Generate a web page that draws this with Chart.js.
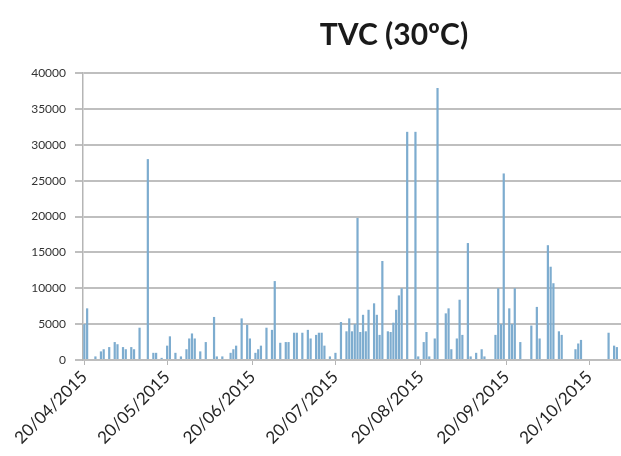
<!DOCTYPE html>
<html>
<head>
<meta charset="utf-8">
<script src="https://cdn.jsdelivr.net/npm/chart.js@4.4.1/dist/chart.umd.min.js"></script>
<style>
    body { margin: 0; background: #fff; }
    #caja { width: 621px; height: 456px; }
</style>
</head>
<body>
<div id="caja"><canvas id="myChart"></canvas></div>
<script>

// fechas con muestra y su valor TVC
const fechas = [
    '20/04/2015','21/04/2015','24/04/2015','26/04/2015','27/04/2015','29/04/2015',
    '01/05/2015','02/05/2015','04/05/2015','05/05/2015','07/05/2015','08/05/2015','10/05/2015',
    '13/05/2015','15/05/2015','16/05/2015','18/05/2015','20/05/2015','21/05/2015','23/05/2015',
    '25/05/2015','27/05/2015','28/05/2015','29/05/2015','30/05/2015',
    '01/06/2015','03/06/2015','06/06/2015','07/06/2015','09/06/2015','12/06/2015','13/06/2015',
    '14/06/2015','16/06/2015','18/06/2015','19/06/2015','21/06/2015','22/06/2015','23/06/2015',
    '25/06/2015','27/06/2015','28/06/2015','30/06/2015',
    '02/07/2015','03/07/2015','05/07/2015','06/07/2015','08/07/2015','10/07/2015','11/07/2015',
    '13/07/2015','14/07/2015','15/07/2015','16/07/2015','18/07/2015','20/07/2015','22/07/2015',
    '24/07/2015','25/07/2015','26/07/2015','27/07/2015','28/07/2015','29/07/2015','30/07/2015','31/07/2015',
    '01/08/2015','03/08/2015','04/08/2015','05/08/2015','06/08/2015','08/08/2015','09/08/2015',
    '10/08/2015','11/08/2015','12/08/2015','13/08/2015','15/08/2015','18/08/2015','19/08/2015',
    '21/08/2015','22/08/2015','23/08/2015','25/08/2015','26/08/2015','29/08/2015','30/08/2015','31/08/2015',
    '02/09/2015','03/09/2015','04/09/2015','06/09/2015','07/09/2015','09/09/2015','11/09/2015',
    '12/09/2015','16/09/2015','17/09/2015','18/09/2015','19/09/2015','21/09/2015','22/09/2015',
    '23/09/2015','25/09/2015','29/09/2015',
    '01/10/2015','02/10/2015','05/10/2015','06/10/2015','07/10/2015','09/10/2015','10/10/2015',
    '15/10/2015','16/10/2015','17/10/2015','27/10/2015','29/10/2015','30/10/2015'
];

const valores = [
    5000, 7200, 500, 1200, 1500, 1800,
    2500, 2200, 1800, 1500, 1800, 1500, 4500,
    28000, 1000, 1000, 300, 2000, 3300, 1000,
    500, 1500, 3000, 3700, 3000,
    1200, 2500, 6000, 500, 500, 1000, 1500,
    2000, 5800, 4900, 3000, 1000, 1500, 2000,
    4500, 4200, 11000, 2400,
    2500, 2500, 3800, 3800, 3800, 4200, 3000,
    3500, 3800, 3800, 2000, 500, 1000, 5300,
    4000, 5800, 4000, 5000, 19800, 3900, 6300, 4000,
    7000, 7900, 6300, 3500, 13800, 4000, 3900,
    5200, 7000, 9000, 10000, 31800, 31800, 500,
    2500, 3900, 500, 3000, 37900, 6500, 7200, 1500,
    3000, 8400, 3500, 16300, 500, 1000, 1500,
    500, 3500, 10000, 5000, 26000, 7200, 5000,
    10000, 2500, 4800,
    7400, 3000, 16000, 13000, 10700, 4000, 3500,
    1500, 2300, 2800, 3800, 2000, 1800
];

const etiquetasEje = ['20/04/2015','20/05/2015','20/06/2015','20/07/2015','20/08/2015','20/09/2015','20/10/2015'];
const ticksY = [0, 5000, 10000, 15000, 20000, 25000, 30000, 35000, 40000];

const inicio = '20/04/2015';
const fin = '31/10/2015';

// eje diario: una categoria por dia
const aFecha = t => { let p = t.split('/'); return new Date(+p[2], +p[1] - 1, +p[0]); }
const aTexto = d => String(d.getDate()).padStart(2, '0') + '/' + String(d.getMonth() + 1).padStart(2, '0') + '/' + d.getFullYear();

let dias = [];
for (let d = aFecha(inicio); d <= aFecha(fin); d.setDate(d.getDate() + 1)) {
    dias.push(aTexto(d));
}
let serie = dias.map(dia => {
    let i = fechas.indexOf(dia);
    return i >= 0 ? valores[i] : null;
});

const tituloPlugin = {
    id: 'tituloPlugin',
    afterDraw: chart => {
        let c = chart.ctx;
        c.save();
        c.font = 'bold 30px Lato';
        c.fillStyle = '#1a1a1a';
        c.textAlign = 'center';
        c.textBaseline = 'middle';
        c.fillText('TVC (30ºC)', 394, 35);
        c.restore();
    }
}

let ctx = document.getElementById('myChart').getContext('2d');
let myChart = new Chart(ctx, {
    type: 'bar',
    data: {
        labels: dias,
        datasets: [{
            label: 'TVC (30ºC)',
            data: serie,
            backgroundColor: 'rgb(125, 172, 207)',
            borderWidth: 0,
            barPercentage: 0.8,
            categoryPercentage: 1
        }]
    },
    options: {
        responsive: true,
        maintainAspectRatio: false,
        animation: false,
        layout: { padding: { top: 73, right: 0, bottom: 0, left: 0 } },
        plugins: {
            legend: { display: false },
            title: { display: false },
            tooltip: { enabled: false }
        },
        scales: {
            x: {
                afterFit: s => {
                    s.height = 96
                    s.paddingLeft = 0
                    s.paddingRight = 0
                },
                grid: {
                    drawOnChartArea: false,
                    drawTicks: true,
                    tickLength: 5,
                    offset: false,
                    color: c => (c.tick && etiquetasEje.includes(dias[c.index])) ? '#b5b5b5' : 'rgba(0,0,0,0)'
                },
                border: { color: '#bdbdbd', width: 1.5 },
                ticks: {
                    autoSkip: false,
                    maxRotation: 45,
                    minRotation: 45,
                    padding: 2,
                    color: '#262626',
                    font: { family: 'Lato', size: 17 },
                    callback: (v, i) => etiquetasEje.includes(dias[i]) ? dias[i] : ''
                }
            },
            y: {
                min: 0,
                max: 40000,
                afterFit: s => { s.width = 83 },
                afterBuildTicks: s => { s.ticks = ticksY.map(v => ({ value: v })) },
                grid: { color: '#bfbfbf', lineWidth: 2, tickLength: 8 },
                border: { color: '#b5b5b5', width: 1.5 },
                ticks: {
                    padding: 9,
                    color: '#333',
                    font: { family: 'Lato', size: 12 },
                    callback: v => String(v)
                }
            }
        }
    },
    plugins: [tituloPlugin]
})

</script>
</body>
</html>
